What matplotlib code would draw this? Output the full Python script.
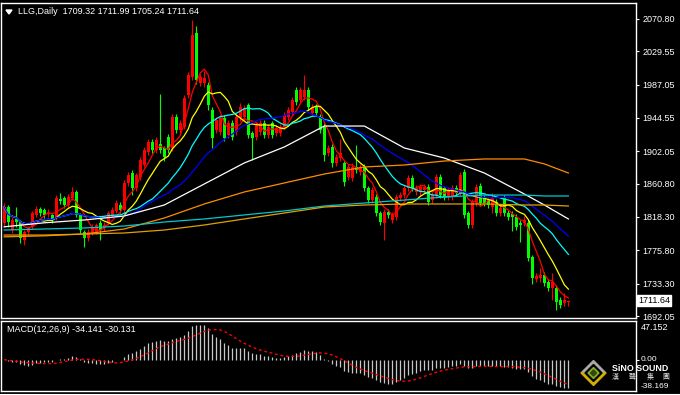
import matplotlib
matplotlib.use("Agg")
import matplotlib.pyplot as plt
from matplotlib.patches import Polygon
from matplotlib.transforms import blended_transform_factory
import numpy as np
import pandas as pd

plt.rcParams['font.family'] = ['Liberation Sans', 'DejaVu Sans']

# daily bars (oldest first)
opens = [1811, 1831, 1802, 1816, 1812, 1789, 1799, 1806, 1821, 1828,
         1827, 1822, 1821, 1818, 1841, 1842, 1834, 1843, 1850, 1821,
         1799, 1792, 1798, 1799, 1811, 1804, 1811, 1821, 1826, 1834,
         1827, 1862, 1874, 1855, 1869, 1885, 1901, 1914, 1904, 1912,
         1906, 1920, 1906, 1946, 1929, 1933, 1974, 1997, 2053, 1989,
         1989, 1987, 1955, 1929, 1927, 1945, 1923, 1938, 1927, 1944,
         1946, 1961, 1925, 1920, 1927, 1938, 1923, 1938, 1925, 1925,
         1933, 1946, 1952, 1980, 1967, 1971, 1980, 1951, 1959, 1946,
         1933, 1900, 1908, 1887, 1894, 1887, 1869, 1868, 1882, 1876,
         1882, 1855, 1840, 1844, 1823, 1811, 1825, 1815, 1818, 1842,
         1846, 1855, 1868, 1850, 1850, 1853, 1857, 1840, 1846, 1869,
         1855, 1844, 1844, 1855, 1849, 1876, 1823, 1808, 1836, 1858,
         1842, 1840, 1831, 1837, 1823, 1842, 1823, 1822, 1818, 1811,
         1811, 1811, 1767, 1739, 1740, 1744, 1735, 1728, 1728, 1712,
         1709, 1709.32]
highs = [1836, 1834, 1818, 1831, 1815, 1802, 1807, 1826, 1832, 1831,
         1830, 1828, 1824, 1846, 1849, 1845, 1847, 1856, 1853, 1824,
         1802, 1803, 1810, 1811, 1814, 1812, 1826, 1831, 1840, 1837,
         1866, 1876, 1878, 1875, 1895, 1908, 1918, 1918, 1920, 1975,
         1909, 1924, 1950, 1950, 1942, 1974, 2003, 2069, 2062, 2001,
         2004, 1990, 1958, 1946, 1949, 1949, 1942, 1942, 1950, 1964,
         1961, 1964, 1928, 1940, 1942, 1942, 1937, 1941, 1935, 1937,
         1952, 1959, 1971, 1984, 1984, 1999, 1984, 1963, 1962, 1950,
         1938, 1910, 1911, 1899, 1918, 1890, 1886, 1887, 1910, 1886,
         1886, 1858, 1857, 1847, 1826, 1828, 1828, 1825, 1848, 1850,
         1859, 1872, 1872, 1859, 1861, 1861, 1861, 1850, 1873, 1873,
         1858, 1857, 1859, 1859, 1876, 1880, 1826, 1841, 1861, 1862,
         1846, 1843, 1849, 1841, 1834, 1846, 1827, 1826, 1822, 1814,
         1819, 1815, 1770, 1747, 1753, 1748, 1739, 1747, 1731, 1716,
         1722, 1711.99]
lows = [1806, 1805, 1798, 1806, 1785, 1783, 1796, 1803, 1818, 1820,
        1817, 1818, 1811, 1815, 1835, 1830, 1831, 1840, 1818, 1798,
        1780, 1788, 1795, 1796, 1789, 1800, 1808, 1818, 1823, 1824,
        1824, 1858, 1846, 1852, 1866, 1882, 1897, 1900, 1900, 1900,
        1890, 1900, 1903, 1925, 1925, 1930, 1970, 1993, 1988, 1985,
        1984, 1955, 1906, 1925, 1923, 1915, 1919, 1916, 1923, 1941,
        1942, 1919, 1891, 1916, 1923, 1919, 1919, 1919, 1921, 1921,
        1930, 1942, 1949, 1961, 1963, 1967, 1955, 1947, 1947, 1925,
        1890, 1896, 1882, 1883, 1890, 1858, 1865, 1864, 1874, 1872,
        1851, 1836, 1836, 1819, 1808, 1789, 1817, 1811, 1815, 1839,
        1843, 1852, 1851, 1846, 1846, 1849, 1833, 1836, 1843, 1843,
        1840, 1840, 1840, 1845, 1845, 1817, 1804, 1804, 1832, 1832,
        1832, 1830, 1823, 1819, 1819, 1819, 1814, 1800, 1802, 1786,
        1807, 1762, 1733, 1735, 1736, 1730, 1724, 1712, 1700, 1702,
        1705, 1705.24]
closes = [1831, 1812, 1815, 1812, 1792, 1799, 1804, 1823, 1828, 1824,
          1821, 1823.5, 1814, 1842, 1839, 1834, 1844, 1850, 1821, 1802,
          1792, 1799, 1806, 1808, 1802, 1808, 1823, 1827, 1836, 1827,
          1862, 1872, 1855, 1872, 1891, 1904, 1914, 1904, 1916, 1904,
          1895, 1904, 1946, 1929, 1938, 1970, 1999, 2050, 1993, 1997,
          1996, 1961, 1919, 1942, 1945, 1919, 1938, 1920, 1946, 1959,
          1957, 1923, 1919, 1936, 1938, 1923, 1933, 1923, 1932, 1933,
          1948, 1955, 1967, 1965, 1980, 1980, 1959, 1959, 1951, 1929,
          1897, 1906, 1887, 1895, 1900, 1863, 1882, 1882, 1878, 1882,
          1855, 1840, 1853, 1823, 1812, 1825, 1821, 1821, 1844, 1846,
          1855, 1868, 1855, 1855, 1857, 1857, 1837, 1846, 1869, 1846,
          1844, 1853, 1855, 1849, 1872, 1821, 1808, 1837, 1857, 1836,
          1836, 1834, 1842, 1823, 1830, 1823, 1818, 1818, 1806, 1808,
          1815, 1766, 1740, 1743, 1744, 1734, 1728, 1735, 1710, 1706,
          1712, 1711.64]

# slow averages, read at a few bars
slow_idx = [0, 10, 20, 30, 40, 50, 60, 70, 80, 90, 100, 110, 120, 130, 135, 141]
ma60 = [1805.8, 1810.9, 1814.5, 1819.6, 1833.6, 1860.4, 1887.2, 1907.6,
        1934.3, 1934.3, 1906.3, 1893.5, 1874.4, 1847.6, 1833.6, 1815.8]
ma_orange = [1795.3, 1795.3, 1796.6, 1803.0, 1817.0, 1834.9, 1850.2, 1861.7,
             1873.1, 1882.1, 1884.6, 1889.7, 1892.3, 1892.3, 1886.0, 1874.4]
ma_teal = [1801.7, 1803.0, 1804.3, 1806.8, 1811.9, 1815.8, 1820.9, 1826.0,
           1832.3, 1836.1, 1839.9, 1843.8, 1846.3, 1846.3, 1845.1, 1845.1]
ma_gold = [1793.0, 1794.3, 1796.6, 1797.9, 1801.7, 1808.1, 1815.8, 1823.4,
           1831.0, 1833.6, 1834.9, 1834.9, 1834.9, 1833.6, 1833.6, 1832.3]

price_ticks = [2070.80, 2029.55, 1987.05, 1944.55, 1902.05,
               1860.80, 1818.30, 1775.80, 1733.30, 1692.05]
macd_max, macd_min = 47.152, -38.169

W, H = 680, 395
fig = plt.figure(figsize=(W / 100, H / 100), dpi=100, facecolor='black')
ax = fig.add_axes([1 / W, 1 - 318 / H, 635 / W, 315 / H], facecolor='black')
ax2 = fig.add_axes([1 / W, 1 - 391 / H, 635 / W, 70 / H], facecolor='black')

x = np.arange(len(closes))
o = np.array(opens, float)
c = np.array(closes, float)
cols = np.where(c >= o, '#ff0000', '#00ff00')

ax.vlines(x, lows, highs, colors=cols, linewidth=0.8)
body = np.maximum(np.abs(c - o), 1.2)
ax.bar(x, body, bottom=np.minimum(o, c), width=0.7, color=cols, linewidth=0)

s = pd.Series(c)
ax.plot(x, s.rolling(5, min_periods=1).mean(), color='#ff0000', lw=0.9)
ax.plot(x, s.rolling(10, min_periods=1).mean(), color='#ffff00', lw=0.9)
ax.plot(x, s.rolling(20, min_periods=1).mean(), color='#00ffff', lw=0.9)
ax.plot(x, s.rolling(30, min_periods=1).mean(), color='#0000ff', lw=0.9)
ax.plot(slow_idx, ma60, color='white', lw=0.9)
ax.plot(slow_idx, ma_orange, color='#ff8c00', lw=0.9)
ax.plot(slow_idx, ma_teal, color='#00c8d0', lw=0.9)
ax.plot(slow_idx, ma_gold, color='#e0a000', lw=0.9)

ax.set_xlim(-0.8, 157.9)
ax.set_ylim(1689.5, 2091.2)
ax.yaxis.tick_right()
ax.set_yticks(price_ticks)
ax.set_yticklabels(['%.2f' % t for t in price_ticks])
ax.set_xticks([])

# MACD(12,26,9)
ema12 = s.ewm(span=12, adjust=False).mean()
ema26 = s.ewm(span=26, adjust=False).mean()
macd = ema12 - ema26
signal = macd.rolling(9, min_periods=1).mean()
ax2.vlines(x, 0, macd, colors='#c8c8c8', linewidth=0.9)
ax2.plot(x, signal, color='#ff0000', lw=1, linestyle=(0, (2, 2)))
ax2.set_xlim(-0.8, 157.9)
ax2.set_ylim(macd_min, macd_max)
ax2.set_xticks([])
ax2.yaxis.tick_right()
ax2.set_yticks([0])
ax2.set_yticklabels([''])

for a in (ax, ax2):
    for sp in a.spines.values():
        sp.set_color('white')
        sp.set_linewidth(1)
    a.tick_params(axis='y', colors='white', labelsize=6.5, length=2.5,
                  width=0.8, pad=2)

# last price box
tr = blended_transform_factory(ax.transAxes, ax.transData)
ax.text(1.003, closes[-1], '%.2f' % closes[-1], transform=tr, color='black',
        fontsize=6.5, va='center', ha='left', clip_on=False,
        bbox=dict(boxstyle='square,pad=0.12', fc='white', ec='white'))

# overlay in pixel coordinates for header, panel labels, logo
ov = fig.add_axes([0, 0, 1, 1], facecolor='none', zorder=10)
ov.set_xlim(0, W)
ov.set_ylim(H, 0)
ov.axis('off')

ov.add_patch(Polygon([(6, 10), (12, 10), (9, 14)], closed=True, color='white'))
ov.text(18, 12, 'LLG,Daily  %.2f %.2f %.2f %.2f' % (opens[-1], highs[-1], lows[-1], closes[-1]),
        color='white', fontsize=6.5, va='center', ha='left')
ov.text(7, 329, 'MACD(12,26,9) %.3f %.3f' % (-34.141, -30.131),
        color='white', fontsize=6.5, va='center', ha='left')
ov.plot([0, W], [393.5, 393.5], color='white', lw=0.8)

ov.text(641, 327, '%.3f' % macd_max, color='white', fontsize=6.5, va='center')
ov.text(641, 359.5, '0.00', color='white', fontsize=6, va='center')

# logo
cx, cy = 593.5, 373
ov.add_patch(Polygon([(cx, cy - 12.5), (cx + 12.5, cy), (cx - 12.5, cy)], color='#a8a8a8'))
ov.add_patch(Polygon([(cx - 12.5, cy), (cx + 12.5, cy), (cx, cy + 12.5)], color='#d2ae00'))
ov.add_patch(Polygon([(cx, cy - 8.5), (cx + 8.5, cy), (cx, cy + 8.5), (cx - 8.5, cy)], color='black'))
ov.add_patch(Polygon([(cx, cy - 5.5), (cx + 5.5, cy), (cx, cy + 5.5), (cx - 5.5, cy)], color='#8aa828'))
ov.add_patch(Polygon([(cx, cy - 3), (cx + 3, cy), (cx, cy + 3), (cx - 3, cy)], color='#2e4a08'))
ov.text(612, 368.5, 'SiNO SOUND', color='white', fontsize=6.4, fontweight='bold',
        va='center', ha='left')
for ch, px in zip('漢聲集團', [615.7, 632.3, 650.7, 665.7]):
    ov.text(px, 377, ch, color='#d8d8d8', fontsize=5, va='center', ha='center',
            family=['Noto Sans CJK TC', 'DejaVu Sans'])
ov.text(641, 386.5, '%.3f' % macd_min, color='white', fontsize=6, va='center')

fig.savefig('out.png', dpi=100, facecolor='black')
